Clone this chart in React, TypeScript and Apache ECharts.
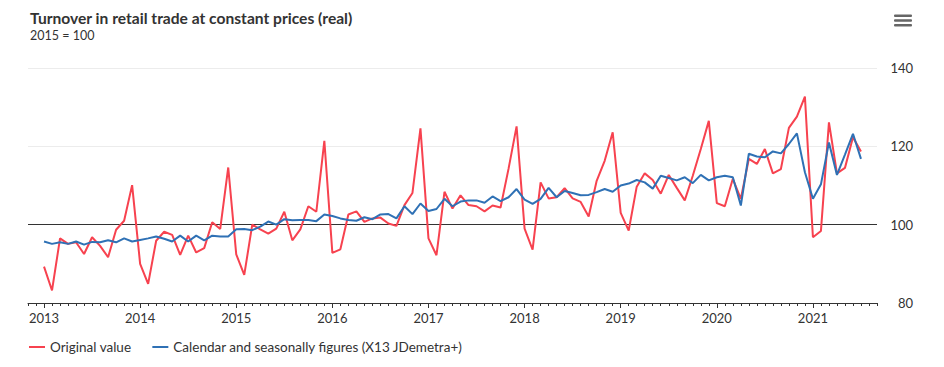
import React, { useEffect, useRef } from "react";
import * as echarts from "echarts";

// Months on the axis: Nov 2012 .. Sep 2021
const startYear = 2012;
const startMonth = 10; // 0-based, November
const monthCount = 107;

const categories: string[] = [];
for (let k = 0; k < monthCount; k++) {
  const m = startMonth + k;
  const y = startYear + Math.floor(m / 12);
  const mm = (m % 12) + 1;
  categories.push(`${y}-${mm < 10 ? "0" + mm : mm}`);
}

// Original values, Jan 2013 .. Jul 2021
const originalValue: number[] = [
  89.3, 83.2, 96.5, 95.1, 95.5, 92.5, 96.8, 94.6, 91.7, 98.7, 101.0, 110.1,
  90.0, 84.9, 95.9, 98.2, 97.4, 92.3, 97.2, 92.9, 94.0, 100.6, 98.9, 114.6,
  92.4, 87.2, 100.0, 98.8, 97.7, 99.0, 103.3, 96.0, 98.8, 104.7, 103.3, 121.4,
  92.8, 93.7, 102.6, 103.4, 100.7, 101.6, 101.8, 100.3, 99.7, 105.0, 108.1, 124.6,
  96.5, 92.2, 108.4, 104.1, 107.5, 105.0, 104.7, 103.4, 104.9, 104.4, 114.3, 125.1,
  99.0, 93.6, 110.8, 106.7, 107.0, 109.3, 106.7, 105.8, 102.1, 111.2, 116.3, 123.6,
  103.0, 98.5, 109.7, 113.1, 111.4, 107.9, 112.7, 109.4, 106.2, 112.5, 119.3, 126.5,
  105.5, 104.7, 111.7, 106.6, 116.8, 115.5, 119.3, 113.1, 114.2, 124.7, 127.6, 132.7,
  96.8, 98.4, 126.1, 113.1, 114.5, 122.3, 118.7,
];

// Calendar and seasonally adjusted figures, Jan 2013 .. Jul 2021
const adjustedValue: number[] = [
  95.7, 95.1, 95.5, 95.1, 95.7, 94.9, 95.6, 95.5, 96.0, 95.5, 96.5, 95.7,
  96.1, 96.5, 97.0, 96.4, 95.7, 97.2, 95.7, 97.2, 96.0, 97.2, 97.0, 97.0,
  98.8, 98.9, 98.6, 99.5, 100.8, 100.0, 101.4, 101.1, 101.2, 101.2, 100.9, 102.6,
  102.2, 101.6, 101.2, 101.0, 101.9, 101.4, 102.6, 102.7, 101.6, 104.7, 102.7, 105.4,
  103.5, 104.0, 106.6, 104.7, 105.9, 106.2, 106.2, 105.6, 107.2, 106.0, 107.0, 109.1,
  106.4, 105.3, 106.6, 109.4, 107.0, 108.6, 108.1, 107.5, 107.6, 108.3, 109.1, 108.4,
  110.0, 110.5, 111.4, 110.8, 109.2, 112.5, 111.9, 111.3, 112.1, 110.6, 112.7, 111.3,
  112.1, 112.5, 112.1, 104.9, 118.1, 117.4, 117.2, 118.7, 118.2, 120.6, 123.3, 113.4,
  106.6, 110.3, 121.0, 112.7, 117.9, 123.2, 116.8,
];

const yTicks: number[] = [80, 100, 120, 140];

const leadingGap = 2; // Nov, Dec 2012 have no data

function pad(values: number[]): (number | null)[] {
  const out: (number | null)[] = [];
  for (let k = 0; k < monthCount; k++) {
    const i = k - leadingGap;
    out.push(i >= 0 && i < values.length ? values[i] : null);
  }
  return out;
}

const FONT = "Lato, 'Noto Sans', sans-serif";
const RED = "#f7424f";
const BLUE = "#2f71b5";

export default function App() {
  const ref = useRef<HTMLDivElement>(null);

  useEffect(() => {
    document.body.style.margin = "0";
    if (!ref.current) return;
    const chart = echarts.init(ref.current, undefined, { renderer: "svg" });
    const isJanuary = (idx: number) => categories[idx].endsWith("-01");
    chart.setOption({
      animation: false,
      backgroundColor: "#ffffff",
      textStyle: { fontFamily: FONT },
      title: {
        text: "Turnover in retail trade at constant prices (real)",
        subtext: "2015 = 100",
        left: 30,
        top: 10,
        padding: 0,
        itemGap: 3,
        textStyle: { fontFamily: FONT, fontSize: 15.6, fontWeight: "bold", color: "#333333" },
        subtextStyle: { fontFamily: FONT, fontSize: 12.5, color: "#333333" },
      },
      legend: {
        left: 29,
        top: 340,
        padding: 0,
        icon: "rect",
        itemWidth: 16,
        itemHeight: 2,
        itemGap: 21,
        textStyle: { fontFamily: FONT, fontSize: 13.5, color: "#333333" },
        data: ["Original value", "Calendar and seasonally figures (X13 JDemetra+)"],
      },
      grid: { left: 28, right: 67, top: 68, bottom: 64, containLabel: false },
      xAxis: [
        {
          type: "category",
          data: categories,
          boundaryGap: false,
          axisLine: { show: true, lineStyle: { color: "#333333", width: 1 } },
          axisTick: { show: true, interval: 0, length: 3, lineStyle: { color: "#333333" } },
          axisLabel: { show: false },
          splitLine: { show: false },
        },
        {
          type: "category",
          data: categories,
          boundaryGap: false,
          position: "bottom",
          axisLine: { show: false },
          axisTick: {
            show: true,
            length: 5,
            interval: (idx: number) => isJanuary(idx),
            lineStyle: { color: "#333333" },
          },
          axisLabel: {
            show: true,
            interval: (idx: number) => isJanuary(idx),
            formatter: (v: string) => v.slice(0, 4),
            margin: 8,
            fontFamily: FONT,
            fontSize: 13,
            color: "#333333",
          },
          splitLine: { show: false },
        },
      ],
      yAxis: {
        type: "value",
        position: "right",
        min: yTicks[0],
        max: yTicks[yTicks.length - 1],
        interval: 20,
        axisLine: { show: false },
        axisTick: { show: false },
        axisLabel: {
          align: "right",
          margin: 36,
          fontFamily: FONT,
          fontSize: 13,
          color: "#333333",
        },
        splitLine: {
          show: true,
          lineStyle: { color: ["rgba(0,0,0,0)", "#333333", "#ececec", "#ececec"], width: 1 },
        },
      },
      series: [
        {
          name: "Original value",
          type: "line",
          data: pad(originalValue),
          showSymbol: false,
          symbol: "none",
          lineStyle: { color: RED, width: 2 },
          itemStyle: { color: RED },
          z: 3,
        },
        {
          name: "Calendar and seasonally figures (X13 JDemetra+)",
          type: "line",
          data: pad(adjustedValue),
          showSymbol: false,
          symbol: "none",
          lineStyle: { color: BLUE, width: 2 },
          itemStyle: { color: BLUE },
          z: 4,
        },
      ],
      graphic: [
        { type: "rect", shape: { x: 894, y: 14.5, width: 18, height: 2.6, r: 1 }, style: { fill: "#666666" } },
        { type: "rect", shape: { x: 894, y: 19.2, width: 18, height: 2.6, r: 1 }, style: { fill: "#666666" } },
        { type: "rect", shape: { x: 894, y: 23.9, width: 18, height: 2.6, r: 1 }, style: { fill: "#666666" } },
      ],
    });
    return () => chart.dispose();
  }, []);

  return <div ref={ref} style={{ width: 944, height: 367 }} />;
}
